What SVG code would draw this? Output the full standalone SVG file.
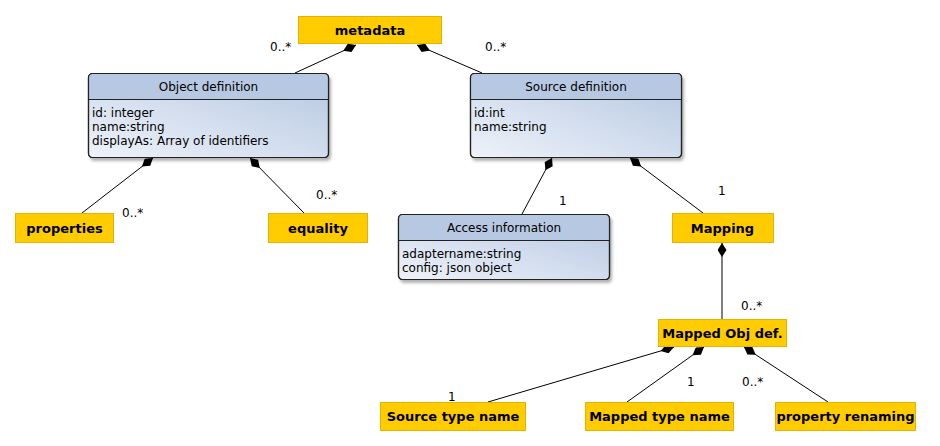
<svg xmlns="http://www.w3.org/2000/svg" width="940" height="446" viewBox="0 0 940 446">
<defs>
<linearGradient id="bodyGrad" x1="0" y1="1" x2="1" y2="0">
<stop offset="0" stop-color="#eef2f9"/>
<stop offset="1" stop-color="#b5c7e2"/>
</linearGradient>
<filter id="shadow" x="-10%" y="-10%" width="130%" height="140%">
<feDropShadow dx="2" dy="3" stdDeviation="1.5" flood-color="#000" flood-opacity="0.3"/>
</filter>
<marker id="diamond" viewBox="0 0 14 9" refX="0" refY="4.5" markerWidth="14" markerHeight="9" markerUnits="userSpaceOnUse" orient="auto">
<path d="M0,4.5 L7,0 L14,4.5 L7,9 Z" fill="#000"/>
</marker>
<style>
.yb{fill:#ffcc00;stroke:#e0b400;stroke-width:1}
.yt{font-family:"DejaVu Sans",sans-serif;font-size:13px;font-weight:bold;fill:#000;text-anchor:middle}
.cls{fill:url(#bodyGrad);stroke:#222;stroke-width:1.2}
.hdr{fill:#b7c8e2}
.ct{font-family:"DejaVu Sans",sans-serif;font-size:12px;fill:#000}
.ctm{text-anchor:middle}
.lbl{font-family:"DejaVu Sans",sans-serif;font-size:12px;fill:#000}
.conn{stroke:#000;stroke-width:1;fill:none;marker-start:url(#diamond)}
</style>
</defs>
<rect width="940" height="446" fill="#fff"/>

<g id="connectors">
<path class="conn" d="M356,45 L295,73"/>
<path class="conn" d="M417,45 L482,73"/>
<path class="conn" d="M153,158 L82,213"/>
<path class="conn" d="M250,158 L304,213"/>
<path class="conn" d="M552,158 L522,214"/>
<path class="conn" d="M630,158 L703,213"/>
<path class="conn" d="M722,243 L722,319"/>
<path class="conn" d="M674,347 L488,402"/>
<path class="conn" d="M704,347 L627,402"/>
<path class="conn" d="M744,347 L828,402"/>
</g>

<g id="labels">
<text class="lbl" x="270" y="51">0..*</text>
<text class="lbl" x="485" y="51">0..*</text>
<text class="lbl" x="122" y="217">0..*</text>
<text class="lbl" x="316" y="199">0..*</text>
<text class="lbl" x="559" y="205">1</text>
<text class="lbl" x="718" y="195">1</text>
<text class="lbl" x="741" y="310">0..*</text>
<text class="lbl" x="448" y="401">1</text>
<text class="lbl" x="687" y="386">1</text>
<text class="lbl" x="742" y="386">0..*</text>
</g>

<g id="metadata">
<rect class="yb" x="298.5" y="16.5" width="143" height="27"/>
<text class="yt" x="370" y="34.5">metadata</text>
</g>

<g id="object-definition" >
<g filter="url(#shadow)">
<rect class="cls" x="88.5" y="73.5" width="240" height="84" rx="4"/>
</g>
<path class="hdr" d="M89.1,99 V77.5 a3.4,3.4 0 0 1 3.4,-3.4 H324.5 a3.4,3.4 0 0 1 3.4,3.4 V99 Z"/>
<rect x="88.5" y="73.5" width="240" height="84" rx="4" fill="none" stroke="#222" stroke-width="1.2"/>
<line x1="88.5" y1="99.5" x2="328.5" y2="99.5" stroke="#222" stroke-width="1.2"/>
<text class="ct ctm" x="208.5" y="91">Object definition</text>
<text class="ct" x="92" y="116.5">id: integer</text>
<text class="ct" x="92" y="130.5">name:string</text>
<text class="ct" x="92" y="145">displayAs: Array of identifiers</text>
</g>

<g id="source-definition">
<g filter="url(#shadow)">
<rect class="cls" x="470.5" y="73.5" width="211" height="84" rx="4"/>
</g>
<path class="hdr" d="M471.1,99 V77.5 a3.4,3.4 0 0 1 3.4,-3.4 H677.5 a3.4,3.4 0 0 1 3.4,3.4 V99 Z"/>
<rect x="470.5" y="73.5" width="211" height="84" rx="4" fill="none" stroke="#222" stroke-width="1.2"/>
<line x1="470.5" y1="99.5" x2="681.5" y2="99.5" stroke="#222" stroke-width="1.2"/>
<text class="ct ctm" x="576" y="91">Source definition</text>
<text class="ct" x="474" y="116.5">id:int</text>
<text class="ct" x="474" y="130.5">name:string</text>
</g>

<g id="properties">
<rect class="yb" x="15.5" y="213.5" width="98" height="29"/>
<text class="yt" x="64.5" y="232.5">properties</text>
</g>

<g id="equality">
<rect class="yb" x="268.5" y="213.5" width="99" height="29"/>
<text class="yt" x="318" y="232.5">equality</text>
</g>

<g id="access-information">
<g filter="url(#shadow)">
<rect class="cls" x="398.5" y="214.5" width="211" height="65" rx="4"/>
</g>
<path class="hdr" d="M399.1,240 V218.5 a3.4,3.4 0 0 1 3.4,-3.4 H605.5 a3.4,3.4 0 0 1 3.4,3.4 V240 Z"/>
<rect x="398.5" y="214.5" width="211" height="65" rx="4" fill="none" stroke="#222" stroke-width="1.2"/>
<line x1="398.5" y1="240.5" x2="609.5" y2="240.5" stroke="#222" stroke-width="1.2"/>
<text class="ct ctm" x="504" y="232">Access information</text>
<text class="ct" x="402" y="258">adaptername:string</text>
<text class="ct" x="402" y="272">config: json object</text>
</g>

<g id="mapping">
<rect class="yb" x="672.5" y="213.5" width="101" height="29"/>
<text class="yt" x="722.5" y="232.5">Mapping</text>
</g>

<g id="mapped-obj-def">
<rect class="yb" x="658.5" y="319.5" width="128" height="27"/>
<text class="yt" x="722.5" y="337.5">Mapped Obj def.</text>
</g>

<g id="source-type-name">
<rect class="yb" x="380.5" y="402.5" width="145" height="28"/>
<text class="yt" x="453" y="421">Source type name</text>
</g>

<g id="mapped-type-name">
<rect class="yb" x="585.5" y="402.5" width="148" height="28"/>
<text class="yt" x="659.5" y="421">Mapped type name</text>
</g>

<g id="property-renaming">
<rect class="yb" x="775.5" y="402.5" width="140" height="28"/>
<text class="yt" x="845.5" y="421">property renaming</text>
</g>
</svg>
